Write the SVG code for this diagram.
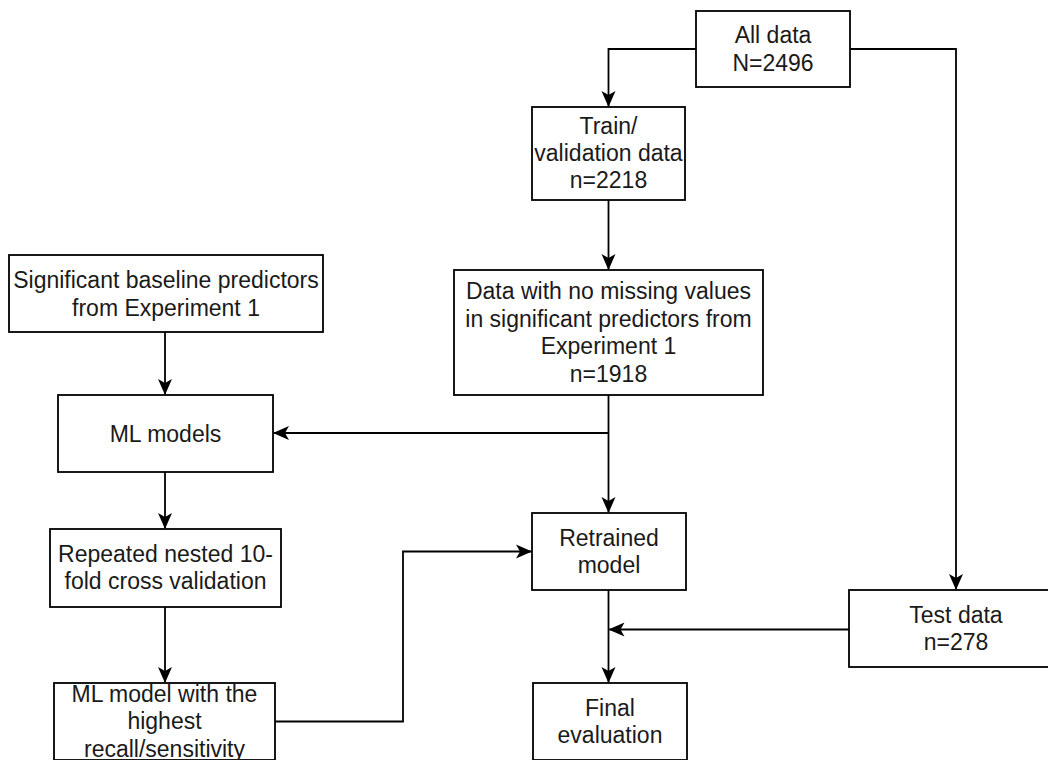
<svg xmlns="http://www.w3.org/2000/svg" width="1048" height="760" viewBox="0 0 1048 760">
<style>
.box{fill:#fff;stroke:#000;stroke-width:1.8}
.t{font-family:"Liberation Sans",Arial,sans-serif;font-size:23px;fill:#1a1a1a;text-anchor:middle}
.c{fill:none;stroke:#000;stroke-width:1.8}
</style>
<defs>
<marker id="ah" markerUnits="userSpaceOnUse" markerWidth="16" markerHeight="16" viewBox="0 0 16 16" refX="15" refY="8" orient="auto">
<path d="M0,1 L16,8 L0,15 L4,8 Z" fill="#000"/>
</marker>
</defs>
<rect width="1048" height="760" fill="#fff"/>
<g id="connectors">
<path class="c" d="M696,49 H608.5 V106" marker-end="url(#ah)"/>
<path class="c" d="M850,49 H956 V589" marker-end="url(#ah)"/>
<path class="c" d="M608.5,200 V269" marker-end="url(#ah)"/>
<path class="c" d="M608.5,395 V512" marker-end="url(#ah)"/>
<path class="c" d="M608.5,433 H274" marker-end="url(#ah)"/>
<path class="c" d="M165,332 V394" marker-end="url(#ah)"/>
<path class="c" d="M165,472 V528" marker-end="url(#ah)"/>
<path class="c" d="M165,607 V682" marker-end="url(#ah)"/>
<path class="c" d="M275,721.5 H403 V551.5 H531" marker-end="url(#ah)"/>
<path class="c" d="M608.5,590 V682" marker-end="url(#ah)"/>
<path class="c" d="M849,629.5 H609.5" marker-end="url(#ah)"/>
</g>
<g id="all-data">
<rect class="box" x="696" y="11" width="154" height="76"/>
<text class="t" x="773" y="43">All data</text>
<text class="t" x="773" y="70.5">N=2496</text>
</g>
<g id="train-validation">
<rect class="box" x="532" y="107" width="153" height="93"/>
<text class="t" x="608.5" y="134">Train/</text>
<text class="t" x="608.5" y="161">validation data</text>
<text class="t" x="608.5" y="188">n=2218</text>
</g>
<g id="no-missing">
<rect class="box" x="454" y="270" width="309" height="125"/>
<text class="t" x="608.5" y="299">Data with no missing values</text>
<text class="t" x="608.5" y="326.5">in significant predictors from</text>
<text class="t" x="608.5" y="354">Experiment 1</text>
<text class="t" x="608.5" y="381.5">n=1918</text>
</g>
<g id="significant-predictors">
<rect class="box" x="9" y="255" width="314" height="77"/>
<text class="t" x="166" y="288">Significant baseline predictors</text>
<text class="t" x="166" y="315.5">from Experiment 1</text>
</g>
<g id="ml-models">
<rect class="box" x="58" y="395" width="215" height="77"/>
<text class="t" x="165.5" y="441.5">ML models</text>
</g>
<g id="repeated-cv">
<rect class="box" x="50" y="529" width="231" height="78"/>
<text class="t" x="165.5" y="561.5">Repeated nested 10-</text>
<text class="t" x="165.5" y="589">fold cross validation</text>
</g>
<g id="best-model">
<rect class="box" x="54" y="683" width="221" height="77"/>
<text class="t" x="164.5" y="701.5">ML model with the</text>
<text class="t" x="164.5" y="729">highest</text>
<text class="t" x="164.5" y="756.5">recall/sensitivity</text>
</g>
<g id="retrained-model">
<rect class="box" x="532" y="513" width="154" height="77"/>
<text class="t" x="609" y="545.5">Retrained</text>
<text class="t" x="609" y="573">model</text>
</g>
<g id="test-data">
<rect class="box" x="849" y="590" width="214" height="77"/>
<text class="t" x="956" y="622.5">Test data</text>
<text class="t" x="956" y="650">n=278</text>
</g>
<g id="final-evaluation">
<rect class="box" x="533" y="683" width="154" height="77"/>
<text class="t" x="610" y="715.5">Final</text>
<text class="t" x="610" y="743">evaluation</text>
</g>
</svg>
